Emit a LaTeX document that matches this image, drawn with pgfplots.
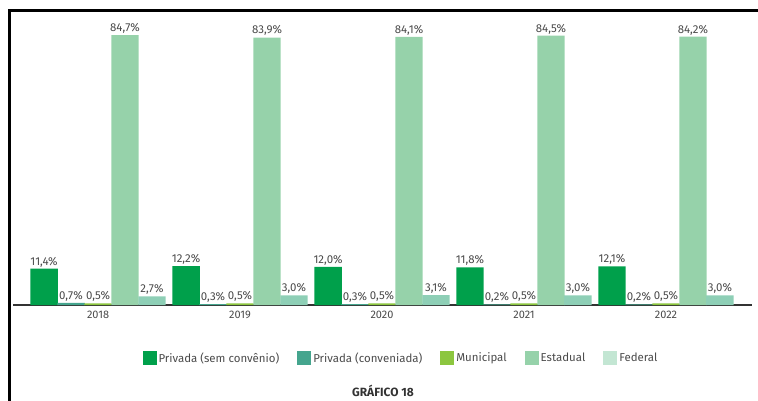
\documentclass[border=0pt]{standalone}
\usepackage{pgfplots}
\pgfplotsset{compat=1.18}
\usepackage{fontspec}
\setmainfont{Fira Sans}
\definecolor{cA}{HTML}{00A04B}
\definecolor{cB}{HTML}{45A58E}
\definecolor{cC}{HTML}{8CC63F}
\definecolor{cD}{HTML}{96D2AA}
\definecolor{cE}{HTML}{8ECFB6}
\definecolor{cEl}{HTML}{C3E6D3}
\definecolor{txt}{HTML}{4A4A4A}
\begin{document}
\begin{tikzpicture}[x=1bp,y=1bp]
\useasboundingbox (0,0) rectangle (758,400);
\draw[line width=3bp, line cap=rect] (9,0) -- (9,389) -- (758,389);
\begin{axis}[
  at={(13bp,95bp)}, anchor=south west,
  scale only axis, width=739bp, height=275.7bp,
  xmin=-0.599, xmax=4.606, ymin=0, ymax=86.5,
  axis x line*=bottom, axis y line=none,
  x axis line style={line width=1.5bp, color=black!80},
  xtick={0,1,2,3,4}, xticklabels={2018,2019,2020,2021,2022},
  major tick length=0pt,
  xticklabel style={font=\fontsize{11}{13}\selectfont, text=txt, yshift=-3bp},
  ybar, bar width=0.193,
  nodes near coords={\pgfmathprintnumber[fixed,fixed zerofill,precision=1,use comma,assume math mode=true]{\pgfplotspointmeta}\%},
  nodes near coords style={font=\fontsize{11.5}{13}\selectfont, text=txt, inner sep=1.5bp},
  clip=false,
  legend columns=5,
  legend style={draw=none, fill=none, at={(0.525,-0.192)}, anchor=center,
    font=\fontsize{11.5}{13}\selectfont, text=txt,
    /tikz/every even column/.append style={column sep=16bp}},
  legend cell align=left,
  legend image code/.code={\fill[#1] (0bp,-7bp) rectangle (14bp,7bp);},
]
\addplot[fill=cA, draw=none, bar shift=-0.38, forget plot] coordinates {(0,11.4) (1,12.2) (2,12.0) (3,11.8) (4,12.1)};
\addplot[fill=cB, draw=none, bar shift=-0.19, forget plot] coordinates {(0,0.7) (1,0.3) (2,0.3) (3,0.2) (4,0.2)};
\addplot[fill=cC, draw=none, bar shift=0, forget plot] coordinates {(0,0.5) (1,0.5) (2,0.5) (3,0.5) (4,0.5)};
\addplot[fill=cD, draw=none, bar shift=0.19, forget plot] coordinates {(0,84.7) (1,83.9) (2,84.1) (3,84.5) (4,84.2)};
\addplot[fill=cE, draw=none, bar shift=0.38, forget plot] coordinates {(0,2.7) (1,3.0) (2,3.1) (3,3.0) (4,3.0)};
\addlegendimage{fill=cA, draw=none}
\addlegendimage{fill=cB, draw=none}
\addlegendimage{fill=cC, draw=none}
\addlegendimage{fill=cD, draw=none}
\addlegendimage{fill=cEl, draw=none}
\legend{Privada (sem convênio), Privada (conveniada), Municipal, Estadual, Federal}
\end{axis}
\node[font=\bfseries\fontsize{12}{14}\selectfont, text=black!80] at (383,9) {GRÁFICO 18};
\end{tikzpicture}
\end{document}
